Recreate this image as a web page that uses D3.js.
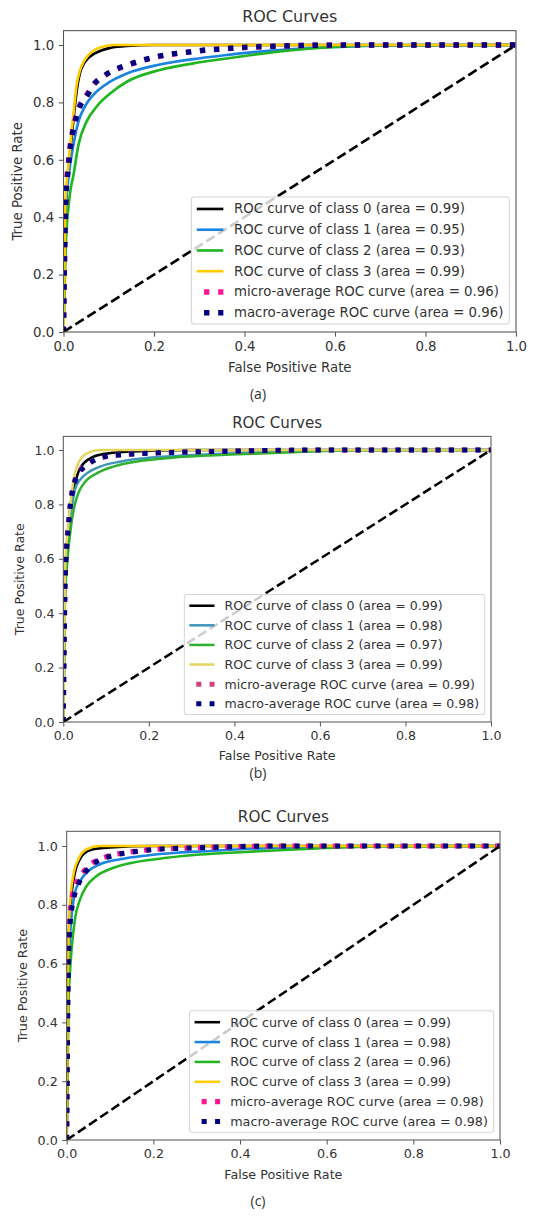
<!DOCTYPE html>
<html>
<head>
<meta charset="utf-8">
<script src="https://cdn.jsdelivr.net/npm/d3@7"></script>
<style>
  body { margin: 0; background: #fff; }
  svg { display: block; }
  text { font-family: "DejaVu Sans", sans-serif; fill: #333; }
</style>
</head>
<body>
<svg id="chart" width="537" height="1220"></svg>
<script>
// ====================================================================
// data, points are [fpr, tpr]
var tick_values = [0, 0.2, 0.4, 0.6, 0.8, 1.0];
var series_names = ["ROC curve of class 0", "ROC curve of class 1", "ROC curve of class 2",
  "ROC curve of class 3", "micro-average ROC curve", "macro-average ROC curve"];

var areas_a = [0.99, 0.95, 0.93, 0.99, 0.96, 0.96];
var areas_b = [0.99, 0.98, 0.97, 0.99, 0.99, 0.98];
var areas_c = [0.99, 0.98, 0.96, 0.99, 0.98, 0.98];

// (a)
var roc_a_class0 = [[0,0],[0.004,0.4],[0.012,0.58],[0.018,0.68],[0.024,0.77],[0.03,0.85],[0.036,0.9],[0.045,0.935],[0.055,0.955],[0.066,0.968],[0.085,0.982],[0.103,0.99],[0.14,0.997],[0.2,1],[1,1]];
var roc_a_class1 = [[0,0],[0.004,0.4],[0.012,0.55],[0.022,0.652],[0.033,0.733],[0.047,0.785],[0.066,0.826],[0.103,0.872],[0.14,0.901],[0.213,0.932],[0.287,0.951],[0.361,0.965],[0.42,0.975],[0.5,0.985],[0.6,0.993],[0.7,0.998],[1,1]];
var roc_a_class2 = [[0,0],[0.005,0.3],[0.011,0.437],[0.016,0.5],[0.022,0.547],[0.033,0.652],[0.051,0.733],[0.073,0.785],[0.103,0.831],[0.14,0.872],[0.213,0.913],[0.287,0.936],[0.361,0.953],[0.42,0.966],[0.5,0.981],[0.6,0.993],[0.7,0.999],[1,1]];
var roc_a_class3 = [[0,0],[0.004,0.45],[0.012,0.6],[0.018,0.7],[0.022,0.76],[0.029,0.86],[0.036,0.91],[0.044,0.94],[0.055,0.965],[0.066,0.98],[0.085,0.993],[0.11,1],[1,1]];
var roc_a_micro = [[0,0],[0.005,0.47],[0.01,0.58],[0.014,0.64],[0.025,0.735],[0.036,0.79],[0.051,0.826],[0.066,0.862],[0.092,0.895],[0.125,0.92],[0.151,0.934],[0.184,0.95],[0.217,0.962],[0.25,0.97],[0.3,0.979],[0.35,0.986],[0.4,0.991],[0.5,0.997],[0.6,1],[1,1]];
var roc_a_macro = [[0,0],[0.005,0.45],[0.01,0.56],[0.014,0.628],[0.025,0.727],[0.036,0.785],[0.051,0.82],[0.066,0.86],[0.092,0.895],[0.125,0.922],[0.151,0.936],[0.184,0.951],[0.217,0.963],[0.25,0.971],[0.28,0.976],[0.316,0.983],[0.346,0.986],[0.379,0.99],[0.45,0.995],[0.55,0.999],[0.65,1],[1,1]];

// (b)
var roc_b_class0 = [[0,0],[0.004,0.5],[0.012,0.72],[0.02,0.83],[0.027,0.877],[0.039,0.932],[0.062,0.969],[0.093,0.985],[0.148,0.994],[0.3,1],[1,1]];
var roc_b_class1 = [[0,0],[0.004,0.5],[0.012,0.7],[0.02,0.79],[0.027,0.853],[0.039,0.89],[0.055,0.914],[0.086,0.939],[0.132,0.957],[0.187,0.969],[0.265,0.978],[0.343,0.984],[0.405,0.988],[0.55,0.995],[0.7,1],[1,1]];
var roc_b_class2 = [[0,0],[0.004,0.45],[0.01,0.6],[0.016,0.694],[0.024,0.779],[0.035,0.841],[0.051,0.883],[0.078,0.914],[0.117,0.939],[0.187,0.961],[0.265,0.973],[0.343,0.98],[0.405,0.984],[0.55,0.993],[0.7,0.999],[1,1]];
var roc_b_class3 = [[0,0],[0.004,0.55],[0.01,0.7],[0.016,0.79],[0.024,0.89],[0.035,0.951],[0.055,0.988],[0.086,1],[1,1]];
var roc_b_micro = [[0,0],[0.005,0.57],[0.012,0.73],[0.016,0.8],[0.02,0.845],[0.027,0.89],[0.039,0.925],[0.058,0.95],[0.082,0.968],[0.106,0.977],[0.15,0.984],[0.2,0.988],[0.3,0.993],[0.4,0.996],[0.55,0.999],[0.65,1],[1,1]];
var roc_b_macro = [[0,0],[0.005,0.55],[0.012,0.718],[0.016,0.79],[0.02,0.835],[0.027,0.883],[0.039,0.92],[0.058,0.948],[0.082,0.969],[0.106,0.978],[0.132,0.982],[0.164,0.985],[0.199,0.988],[0.23,0.99],[0.3,0.993],[0.4,0.996],[0.5,0.999],[0.6,1],[1,1]];

// (c)
var roc_c_class0 = [[0,0],[0.003,0.6],[0.008,0.78],[0.019,0.909],[0.028,0.948],[0.038,0.972],[0.061,0.989],[0.1,0.995],[0.2,1],[1,1]];
var roc_c_class1 = [[0,0],[0.004,0.55],[0.008,0.7],[0.012,0.773],[0.019,0.841],[0.031,0.881],[0.05,0.915],[0.077,0.938],[0.123,0.955],[0.185,0.968],[0.254,0.977],[0.331,0.983],[0.4,0.989],[0.55,0.996],[0.7,1],[1,1]];
var roc_c_class2 = [[0,0],[0.004,0.45],[0.008,0.58],[0.012,0.66],[0.019,0.751],[0.031,0.819],[0.046,0.864],[0.069,0.898],[0.108,0.926],[0.162,0.946],[0.231,0.96],[0.308,0.971],[0.4,0.979],[0.55,0.99],[0.75,0.999],[1,1]];
var roc_c_class3 = [[0,0],[0.003,0.6],[0.008,0.807],[0.015,0.898],[0.027,0.955],[0.046,0.989],[0.077,1],[1,1]];
var roc_c_micro = [[0,0],[0.003,0.62],[0.007,0.76],[0.013,0.83],[0.024,0.88],[0.04,0.915],[0.062,0.945],[0.09,0.963],[0.13,0.976],[0.17,0.984],[0.21,0.989],[0.26,0.992],[0.33,0.995],[0.4,0.998],[0.5,1],[1,1]];
var roc_c_macro = [[0,0],[0.004,0.6],[0.008,0.739],[0.015,0.813],[0.027,0.87],[0.042,0.909],[0.065,0.943],[0.096,0.963],[0.131,0.975],[0.169,0.983],[0.208,0.989],[0.254,0.992],[0.331,0.995],[0.39,0.998],[0.5,1],[1,1]];

var captions = ["(a)", "(b)", "(c)"];
// ====================================================================

// colours (nipy_spectral like class colours, then deeppink / navy)
var colors_ac = ["#000000", "#1a84e0", "#22b522", "#ffcc00", "#ff1493", "#000080"];
var colors_b = ["#000000", "#3e95b8", "#30b030", "#e3d560", "#d0407f", "#000080"];

// panel boxes in page pixels
var panels = [
  {left: 63.5, right: 516, bottom: 332, unit: 287, capY: 393,
   curves: [roc_a_class0, roc_a_class1, roc_a_class2, roc_a_class3, roc_a_micro, roc_a_macro],
   areas: areas_a, colors: colors_ac},
  {left: 63.3, right: 491, bottom: 722, unit: 272, capY: 772,
   curves: [roc_b_class0, roc_b_class1, roc_b_class2, roc_b_class3, roc_b_micro, roc_b_macro],
   areas: areas_b, colors: colors_b},
  {left: 66.7, right: 500, bottom: 1140, unit: 294, capY: 1200,
   curves: [roc_c_class0, roc_c_class1, roc_c_class2, roc_c_class3, roc_c_micro, roc_c_macro],
   areas: areas_c, colors: colors_ac}
];

var svg = d3.select("#chart");
var str_text_color = "#333";
var str_spine_color = "#555";

function fn_draw_panel(p, idx) {
  // font size scales with the panel width, 10pt in the original figure
  var fs = 13.3 * (p.right - p.left) / 452.5;
  var k = fs / 10;
  var top = p.bottom - 1.05 * p.unit;

  var x = d3.scaleLinear().domain([0, 1]).range([p.left, p.right]);
  var y = d3.scaleLinear().domain([0, 1.05]).range([p.bottom, top]);

  var g = svg.append("g").attr("id", "panel_" + idx);

  var clip_id = "clip_" + idx;
  svg.append("clipPath").attr("id", clip_id)
    .append("rect")
    .attr("x", p.left).attr("y", top)
    .attr("width", p.right - p.left).attr("height", p.bottom - top);

  var plot = g.append("g").attr("clip-path", "url(#" + clip_id + ")");

  var line = d3.line()
    .x(function(d) { return x(d[0]); })
    .y(function(d) { return y(d[1]); })
    .curve(d3.curveMonotoneX);

  p.curves.forEach(function(c, i) {
    var dotted = i >= 4;
    plot.append("path")
      .datum(c)
      .attr("d", line)
      .attr("fill", "none")
      .attr("stroke", p.colors[i])
      .attr("stroke-width", dotted ? 4 * k : 2 * k)
      .attr("stroke-dasharray", dotted ? (4 * k) + "," + (6.6 * k) : null)
      .attr("stroke-linejoin", "round");
  });

  // chance diagonal
  plot.append("path")
    .datum([[0, 0], [1, 1]])
    .attr("d", d3.line().x(function(d) { return x(d[0]); }).y(function(d) { return y(d[1]); }))
    .attr("fill", "none")
    .attr("stroke", "#000")
    .attr("stroke-width", 2 * k)
    .attr("stroke-dasharray", (7.4 * k) + "," + (3.2 * k));

  // axes
  var x_axis = g.append("g")
    .attr("transform", "translate(0," + p.bottom + ")")
    .call(d3.axisBottom(x).tickValues(tick_values).tickFormat(d3.format(".1f"))
      .tickSize(3.5 * k).tickPadding(3.5 * k));
  var y_axis = g.append("g")
    .attr("transform", "translate(" + p.left + ",0)")
    .call(d3.axisLeft(y).tickValues(tick_values).tickFormat(d3.format(".1f"))
      .tickSize(3.5 * k).tickPadding(3.5 * k));

  [x_axis, y_axis].forEach(function(a) {
    a.select(".domain").remove();
    a.attr("font-size", fs).attr("font-family", "DejaVu Sans").attr("color", str_spine_color);
    a.selectAll(".tick line").attr("stroke-width", 0.8 * k);
    a.selectAll(".tick text").style("fill", str_text_color);
  });

  // spines
  g.append("rect")
    .attr("x", p.left).attr("y", top)
    .attr("width", p.right - p.left).attr("height", p.bottom - top)
    .attr("fill", "none")
    .attr("stroke", str_spine_color)
    .attr("stroke-width", 0.8 * k);

  // labels
  g.append("text")
    .attr("x", (p.left + p.right) / 2).attr("y", top - 1.1 * fs)
    .attr("text-anchor", "middle").attr("dominant-baseline", "central")
    .attr("font-size", 1.2 * fs)
    .text("ROC Curves");

  g.append("text")
    .attr("x", (p.left + p.right) / 2).attr("y", p.bottom + 2.7 * fs)
    .attr("text-anchor", "middle").attr("dominant-baseline", "central")
    .attr("font-size", fs)
    .text("False Positive Rate");

  var ylab_x = p.left - 3.45 * fs;
  var ylab_y = (top + p.bottom) / 2;
  g.append("text")
    .attr("transform", "translate(" + ylab_x + "," + ylab_y + ") rotate(-90)")
    .attr("text-anchor", "middle").attr("dominant-baseline", "central")
    .attr("font-size", fs)
    .text("True Positive Rate");

  // legend, lower right
  var leg = g.append("g");
  var leg_bg = leg.append("rect");
  var row_h = 1.56 * fs;
  var handle_len = 2 * fs;
  var texts = [];
  series_names.forEach(function(name, i) {
    var t = leg.append("text")
      .attr("font-size", fs)
      .attr("dominant-baseline", "central")
      .text(name + " (area = " + p.areas[i].toFixed(2) + ")");
    texts.push(t);
  });
  var max_w = d3.max(texts, function(t) { return t.node().getComputedTextLength(); });
  var box_w = 0.4 * fs + handle_len + 0.8 * fs + max_w + 0.45 * fs;
  var box_h = 1.75 * fs + 5 * row_h;
  var box_x = p.right - 0.5 * fs - box_w;
  var box_y = p.bottom - 0.6 * fs - box_h;

  leg_bg
    .attr("x", box_x).attr("y", box_y)
    .attr("width", box_w).attr("height", box_h)
    .attr("rx", 0.2 * fs)
    .attr("fill", "#fff").attr("fill-opacity", 0.8)
    .attr("stroke", "#d6d6d6").attr("stroke-width", 0.8 * k);

  series_names.forEach(function(name, i) {
    var cy = box_y + 0.9 * fs + i * row_h;
    var hx = box_x + 0.4 * fs;
    var dotted = i >= 4;
    leg.append("line")
      .attr("x1", hx).attr("x2", hx + handle_len)
      .attr("y1", cy).attr("y2", cy)
      .attr("stroke", p.colors[i])
      .attr("stroke-width", dotted ? 4 * k : 2 * k)
      .attr("stroke-dasharray", dotted ? (4 * k) + "," + (6.6 * k) : null)
      .attr("stroke-dashoffset", dotted ? -5.5 * k : null);
    texts[i].attr("x", hx + handle_len + 0.8 * fs).attr("y", cy);
  });

  // figure caption
  svg.append("text")
    .attr("x", 258).attr("y", p.capY)
    .attr("text-anchor", "middle").attr("dominant-baseline", "central")
    .style("font-family", "'Open Sans', sans-serif")
    .attr("font-size", 14)
    .text(captions[idx]);
}

panels.forEach(fn_draw_panel);
</script>
</body>
</html>
